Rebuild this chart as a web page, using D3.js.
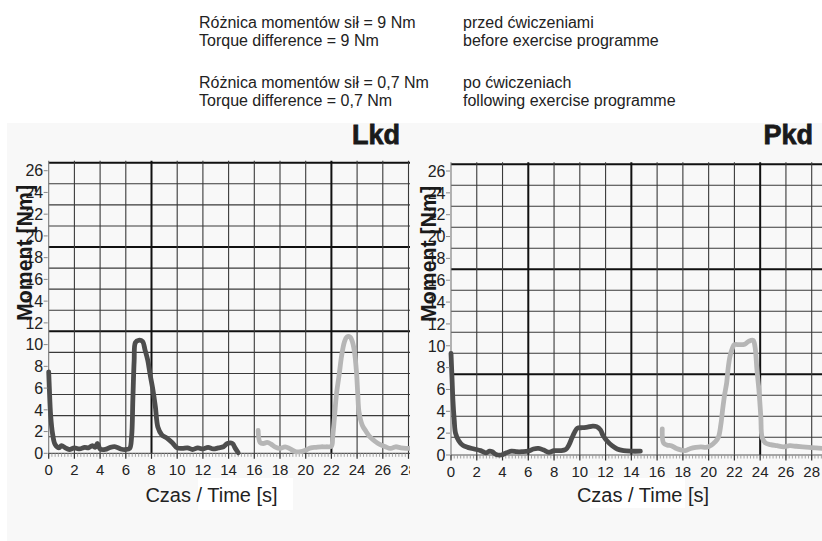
<!DOCTYPE html>
<html><head><meta charset="utf-8">
<script src="https://cdn.jsdelivr.net/npm/d3@7"></script>
<style>
body{margin:0;background:#fff;}
svg{display:block;font-family:"Liberation Sans",Arial,Helvetica,sans-serif;}
</style>
</head><body>
<svg id="chart" width="822" height="541"></svg>
<script>
// ---------------- DATA ----------------
const timeTicks = [0, 2, 4, 6, 8, 10, 12, 14, 16, 18, 20, 22, 24, 26, 28];
const momentTicks = [0, 2, 4, 6, 8, 10, 12, 14, 16, 18, 20, 22, 24, 26];
const panelTitles = ["Lkd", "Pkd"];
const yAxisTitle = "Moment [Nm]";
const xAxisTitle = "Czas / Time [s]";
const headerLeft = ["Różnica momentów sił = 9 Nm", "Torque difference = 9 Nm",
                    "Różnica momentów sił = 0,7 Nm", "Torque difference = 0,7 Nm"];
const headerRight = ["przed ćwiczeniami", "before exercise programme",
                     "po ćwiczeniach", "following exercise programme"];

// [time s, moment Nm]
const lkdBefore = [[0,7.5],[0.05,6.0],[0.15,3.5],[0.3,1.8],[0.5,0.8],[0.8,0.5],[1.0,0.7],[1.3,0.5],[1.6,0.35],
  [2.0,0.5],[2.4,0.4],[2.8,0.55],[3.1,0.5],[3.4,0.7],[3.6,0.55],[3.8,0.9],[4.0,0.4],[4.4,0.35],[4.8,0.55],
  [5.2,0.6],[5.6,0.4],[6.0,0.35],[6.3,0.45],[6.45,1.5],[6.55,5.0],[6.65,8.5],[6.75,10.2],[7.0,10.4],[7.3,10.3],
  [7.5,9.5],[7.7,8.6],[7.9,7.2],[8.1,5.9],[8.3,4.3],[8.5,2.4],[8.8,1.7],[9.2,1.4],[9.6,1.0],[10.0,0.5],
  [10.4,0.45],[10.8,0.5],[11.2,0.35],[11.6,0.5],[12.0,0.4],[12.4,0.55],[12.8,0.4],[13.2,0.5],[13.6,0.6],
  [13.9,0.9],[14.3,0.9],[14.5,0.5],[14.75,0.05]];
const lkdAfter = [[16.3,2.1],[16.45,1.0],[16.7,0.9],[17.0,1.0],[17.3,0.85],[17.6,0.6],[18.0,0.45],[18.4,0.6],
  [18.8,0.4],[19.2,0.15],[19.6,0.15],[20.0,0.3],[20.4,0.5],[20.8,0.55],[21.2,0.6],[21.6,0.6],[22.0,0.65],
  [22.1,1.5],[22.25,3.5],[22.4,5.5],[22.6,7.2],[22.8,9.0],[23.0,10.2],[23.2,10.7],[23.45,10.7],[23.65,10.2],
  [23.8,9.3],[23.95,7.5],[24.05,5.5],[24.15,3.8],[24.4,2.6],[24.7,2.0],[25.0,1.5],[25.4,1.1],[25.8,0.8],
  [26.2,0.6],[26.6,0.45],[27.0,0.6],[27.4,0.5],[27.8,0.45],[28.2,0.45]];
const pkdBefore = [[0,9.3],[0.08,7.0],[0.15,5.0],[0.25,3.2],[0.35,2.0],[0.6,1.3],[0.9,0.9],[1.3,0.7],[1.8,0.55],
  [2.3,0.4],[2.7,0.2],[3.0,0.35],[3.2,0.3],[3.5,0.05],[3.9,0.0],[4.3,0.2],[4.7,0.35],[5.1,0.3],[5.5,0.3],
  [6.0,0.35],[6.4,0.55],[6.8,0.6],[7.2,0.45],[7.6,0.25],[8.0,0.4],[8.5,0.4],[8.9,0.5],[9.15,0.9],[9.4,1.6],
  [9.6,2.1],[9.8,2.45],[10.2,2.5],[10.6,2.55],[11.0,2.65],[11.3,2.6],[11.6,2.3],[11.8,1.8],[12.1,1.3],
  [12.5,0.85],[12.9,0.55],[13.4,0.4],[14.0,0.35],[14.7,0.35]];
const pkdAfter = [[16.4,2.4],[16.5,1.1],[16.8,0.9],[17.1,0.85],[17.5,0.6],[17.9,0.45],[18.2,0.4],[18.6,0.6],
  [19.0,0.7],[19.4,0.75],[19.8,0.7],[20.2,0.9],[20.5,1.2],[20.75,1.6],[20.95,2.8],[21.1,4.3],[21.25,5.6],
  [21.4,6.6],[21.5,7.8],[21.65,9.0],[21.85,9.8],[22.0,10.1],[22.4,10.1],[22.8,10.15],[23.1,10.4],[23.45,10.5],
  [23.6,9.9],[23.75,7.8],[23.9,6.0],[24.05,3.5],[24.15,1.6],[24.4,1.1],[24.8,0.95],[25.3,0.85],[25.8,0.75],
  [26.3,0.85],[26.8,0.8],[27.3,0.75],[27.8,0.7],[28.3,0.65],[28.9,0.6]];
const panelSeries = [[lkdBefore, lkdAfter], [pkdBefore, pkdAfter]];

// ---------------- LAYOUT / STYLE ----------------
const seriesColors = ["#4d4d4d", "#b6b6b6"];
const layout = [
  {x0:48.7, x28:408.5, clipX:0, clipW:410, y0:453.3, y26:170.7, gridTop:162.7, gridBottom:436.7,
   majorRows:[0,4,8], majorTimes:[8,22], titleX:400, yTitleX:31.5, yTitleY:253, xTitleX:211.5, box:[198,478,95,32]},
  {x0:451, x28:811.7, clipX:410, clipW:412, y0:455, y26:171, gridTop:164.3, gridBottom:437.3,
   majorRows:[0,5,10], majorTimes:[6,14,24], titleX:813, yTitleX:436, yTitleY:254, xTitleX:643, box:[590,478,95,30]}
];

const svg = d3.select("#chart");
svg.append("rect").attr("x",7).attr("y",123).attr("width",815).attr("height",418).attr("fill","#f8f8f8");

// header text
const hdr = svg.append("g").attr("font-size",16).attr("fill","#222");
const hdrBase = [28, 46, 87.5, 106];
hdr.selectAll("text.l").data(headerLeft).join("text").attr("class","l")
  .attr("x",199).attr("y",(d,i)=>hdrBase[i]).text(d=>d);
hdr.selectAll("text.r").data(headerRight).join("text").attr("class","r")
  .attr("x",463).attr("y",(d,i)=>hdrBase[i]).text(d=>d);

const defs = svg.append("defs");

layout.forEach((L, p) => {
  defs.append("clipPath").attr("id","clip"+p).append("rect")
    .attr("x",L.clipX).attr("y",115).attr("width",L.clipW).attr("height",426);
  const g = svg.append("g").attr("clip-path",`url(#clip${p})`);
  const x = d3.scaleLinear().domain([0,28]).range([L.x0, L.x28]);
  const y = d3.scaleLinear().domain([0,26]).range([L.y0, L.y26]);
  const gy = d3.scaleLinear().domain([0,13]).range([L.gridBottom, L.gridTop]);
  const xEnd = L.clipX + L.clipW;

  // white box behind x title
  g.append("rect").attr("x",L.box[0]).attr("y",L.box[1]).attr("width",L.box[2]).attr("height",L.box[3]).attr("fill","#fff");

  // horizontal grid
  const rows = d3.range(14);
  g.selectAll("line.h").data(rows).join("line").attr("class","h")
    .attr("x1",L.x0).attr("x2",xEnd).attr("y1",d=>gy(d)).attr("y2",d=>gy(d))
    .attr("stroke",d=>L.majorRows.includes(13-d)?"#111":"#3a3a3a")
    .attr("stroke-width",d=>L.majorRows.includes(13-d)?2:1.1);
  // vertical grid
  const vt = timeTicks.concat([30]);
  g.selectAll("line.v").data(vt).join("line").attr("class","v")
    .attr("x1",d=>x(d)).attr("x2",d=>x(d)).attr("y1",L.gridTop-2).attr("y2",L.y0)
    .attr("stroke",d=>(L.majorTimes.includes(d))?"#111":(d===0?"#777":"#3a3a3a"))
    .attr("stroke-width",d=>(L.majorTimes.includes(d))?2:1.1);

  // x axis line and ticks
  g.append("line").attr("x1",L.x0).attr("x2",xEnd).attr("y1",L.y0).attr("y2",L.y0)
    .attr("stroke","#555").attr("stroke-width",1.2);
  const minor = d3.range(0, 30, 0.25);
  g.selectAll("line.mt").data(minor).join("line").attr("class","mt")
    .attr("x1",d=>x(d)).attr("x2",d=>x(d)).attr("y1",L.y0).attr("y2",L.y0+3.5)
    .attr("stroke","#999").attr("stroke-width",0.9);
  g.selectAll("line.Mt").data(vt).join("line").attr("class","Mt")
    .attr("x1",d=>x(d)).attr("x2",d=>x(d)).attr("y1",L.y0).attr("y2",L.y0+5.5)
    .attr("stroke","#333").attr("stroke-width",1.2);

  // curves
  const line = d3.line().x(d=>x(d[0])).y(d=>y(d[1])).curve(d3.curveCatmullRom.alpha(0.5));
  panelSeries[p].forEach((s, i) => {
    g.append("path").datum(s).attr("d",line).attr("fill","none")
      .attr("stroke",seriesColors[i]).attr("stroke-width",4.8)
      .attr("stroke-linejoin","round").attr("stroke-linecap","round");
  });

  // y ticks + labels
  g.selectAll("line.yt").data(momentTicks).join("line").attr("class","yt")
    .attr("x1",L.x0-5).attr("x2",L.x0-1).attr("y1",d=>y(d)).attr("y2",d=>y(d))
    .attr("stroke","#888").attr("stroke-width",1);
  g.selectAll("text.yl").data(momentTicks).join("text").attr("class","yl")
    .attr("x",L.x0-5.5).attr("y",d=>y(d)).attr("dy","0.36em").attr("text-anchor","end")
    .attr("font-size",16).attr("fill","#222").text(d=>d);
  // x labels
  g.selectAll("text.xl").data(timeTicks).join("text").attr("class","xl")
    .attr("x",d=>x(d)).attr("y",L.y0+21.5).attr("text-anchor","middle")
    .attr("font-size",15).attr("fill","#222").text(d=>d);

  // x title
  g.append("text").attr("x",L.xTitleX).attr("y",501.5).attr("text-anchor","middle")
    .attr("font-size",20).attr("fill","#222").text(xAxisTitle);
  // y title
  g.append("text").attr("transform",`translate(${L.yTitleX},${L.yTitleY}) rotate(-90)`)
    .attr("text-anchor","middle").attr("font-size",22).attr("font-weight","bold")
    .attr("textLength",136).attr("lengthAdjust","spacingAndGlyphs")
    .attr("fill","#1a1a1a").text(yAxisTitle);
  // panel title
  g.append("text").attr("x",L.titleX).attr("y",144).attr("text-anchor","end")
    .attr("font-size",27).attr("font-weight","bold").attr("fill","#1a1a1a")
    .attr("stroke","#1a1a1a").attr("stroke-width",0.8).text(panelTitles[p]);
});
</script>
</body></html>
